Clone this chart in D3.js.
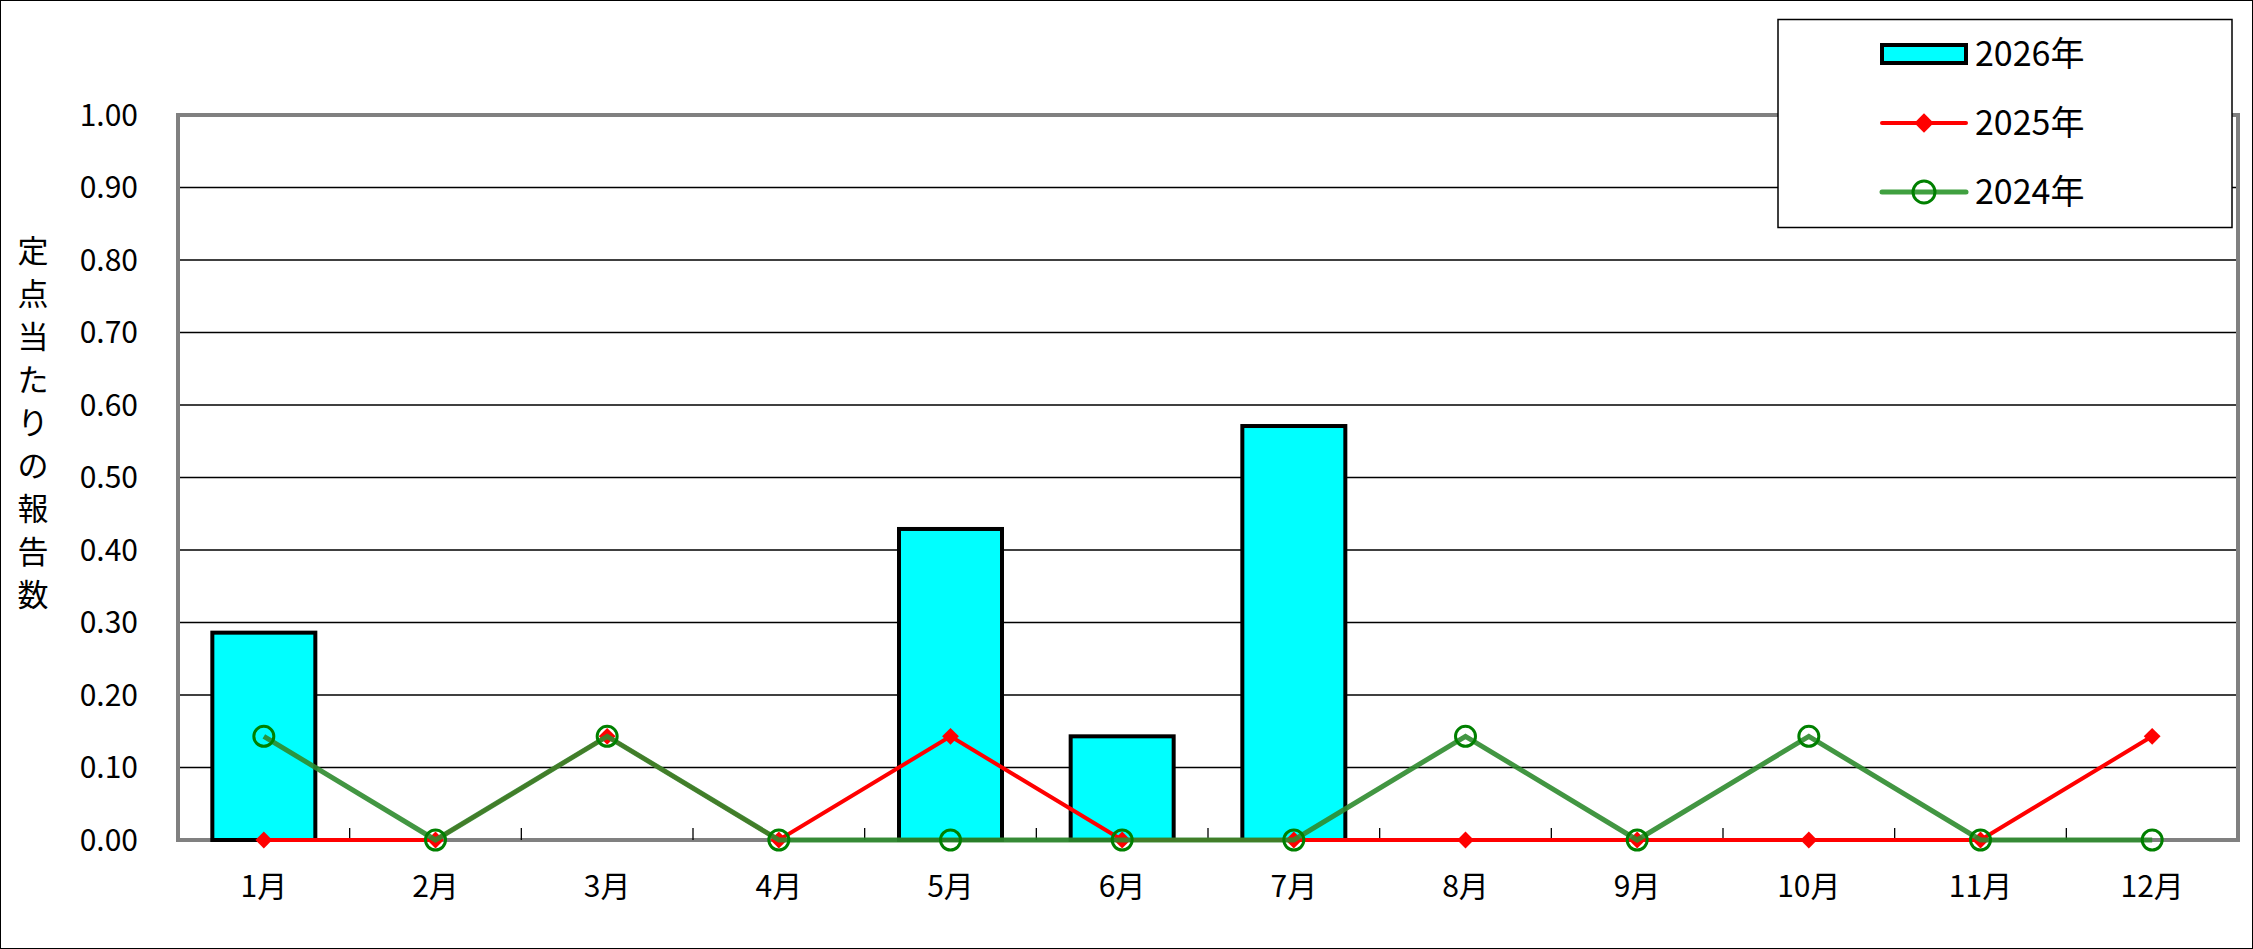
<!DOCTYPE html><html><head><meta charset="utf-8"><script src="https://cdn.jsdelivr.net/npm/d3@7"></script>
<style>body{margin:0;background:#fff}text{font-family:"Noto Sans CJK JP","DejaVu Sans",sans-serif}</style></head><body>
<svg id="c" width="2253" height="949"></svg>
<script>
const months=["1月","2月","3月","4月","5月","6月","7月","8月","9月","10月","11月","12月"];
const v2026=[0.286,0,0,0,0.429,0.143,0.571,0,0,0,0,0];
const v2025=[0,0,0.143,0,0.143,0,0,0,0,0,0,0.143];
const v2024=[0.143,0,0.143,0,0,0,0,0.143,0,0.143,0,0];
const yTicks=[0,0.1,0.2,0.3,0.4,0.5,0.6,0.7,0.8,0.9,1.0];
const W=2253,H=949,L=178,R=2238,T=115,B=840;
const svg=d3.select("#c");
svg.append("rect").attr("x",0.5).attr("y",0.5).attr("width",W-1).attr("height",H-1).attr("fill","#fff").attr("stroke","#000");
const x=d3.scaleBand().domain(months).range([L,R]);
const y=d3.scaleLinear().domain([0,1]).range([B,T]);
// grid
svg.append("g").selectAll("line").data(yTicks.slice(1)).join("line").attr("x1",L).attr("x2",R).attr("y1",d=>y(d)).attr("y2",d=>y(d)).attr("stroke","#000").attr("stroke-width",1.3);
// frame
svg.append("path").attr("d",`M${L},${B}V${T}H${R}V${B}Z`).attr("fill","none").attr("stroke","#808080").attr("stroke-width",4);
// x ticks
svg.append("g").selectAll("line").data(months.slice(1)).join("line").attr("x1",d=>x(d)).attr("x2",d=>x(d)).attr("y1",B).attr("y2",B-12).attr("stroke","#000").attr("stroke-width",1.3);
// y labels
svg.append("g").selectAll("text").data(yTicks).join("text").attr("x",L-40).attr("y",d=>y(d)).attr("dy","0.36em").attr("text-anchor","end").attr("font-size",30).text(d=>d.toFixed(2));
svg.append("g").selectAll("text").data(months).join("text").attr("x",d=>x(d)+x.bandwidth()/2).attr("y",B+57).attr("text-anchor","middle").attr("font-size",30).text(d=>d);
// y title
const title="定点当たりの報告数";
svg.append("g").selectAll("text").data([...title]).join("text").attr("x",33).attr("y",(d,i)=>262+i*43).attr("text-anchor","middle").attr("font-size",31).text(d=>d);
// bars
const bw=x.bandwidth()*0.6;
svg.append("g").selectAll("rect").data(v2026.map((v,i)=>({m:months[i],v})).filter(d=>d.v>0)).join("rect")
 .attr("x",d=>x(d.m)+(x.bandwidth()-bw)/2).attr("width",bw).attr("y",d=>y(d.v)).attr("height",d=>B-y(d.v))
 .attr("fill","#00ffff").attr("stroke","#000").attr("stroke-width",4);
const cx=m=>x(m)+x.bandwidth()/2;
const line=d3.line().x((d,i)=>cx(months[i])).y(d=>y(d));
svg.append("path").attr("d",line(v2025)).attr("fill","none").attr("stroke","#ff0000").attr("stroke-width",4);
svg.append("g").selectAll("path").data(v2025).join("path").attr("transform",(d,i)=>`translate(${cx(months[i])},${y(d)})`).attr("d",d3.symbol(d3.symbolDiamond2,180)()).attr("fill","#ff0000");
svg.append("path").attr("d",line(v2024)).attr("fill","none").attr("stroke","#2e8b2e").attr("stroke-opacity",0.9).attr("stroke-width",5);
svg.append("g").selectAll("circle").data(v2024).join("circle").attr("cx",(d,i)=>cx(months[i])).attr("cy",d=>y(d)).attr("r",10).attr("fill","none").attr("stroke","#008000").attr("stroke-width",3);
// legend
const lg=svg.append("g");
lg.append("rect").attr("x",1778).attr("y",19.5).attr("width",454).attr("height",208).attr("fill","#fff").attr("stroke","#000").attr("stroke-width",1.5);
const ls=[{n:"2026年"},{n:"2025年"},{n:"2024年"}];
const ly=[54,123,192], lx1=1882, lx2=1966;
lg.append("rect").attr("x",lx1).attr("y",ly[0]-9).attr("width",lx2-lx1).attr("height",18).attr("fill","#00ffff").attr("stroke","#000").attr("stroke-width",4);
lg.append("line").attr("x1",lx1).attr("x2",lx2).attr("y1",ly[1]).attr("y2",ly[1]).attr("stroke","#ff0000").attr("stroke-width",4).attr("stroke-linecap","round");
lg.append("path").attr("transform",`translate(${(lx1+lx2)/2},${ly[1]})`).attr("d",d3.symbol(d3.symbolDiamond2,240)()).attr("fill","#ff0000");
lg.append("line").attr("x1",lx1).attr("x2",lx2).attr("y1",ly[2]).attr("y2",ly[2]).attr("stroke","#40a040").attr("stroke-width",5).attr("stroke-linecap","round");
lg.append("circle").attr("cx",(lx1+lx2)/2).attr("cy",ly[2]).attr("r",11).attr("fill","none").attr("stroke","#008000").attr("stroke-width",3);
lg.selectAll("text.l").data(ls).join("text").attr("x",1975).attr("y",(d,i)=>ly[i]).attr("dy","0.36em").attr("font-size",34).text(d=>d.n);
</script></body></html>
